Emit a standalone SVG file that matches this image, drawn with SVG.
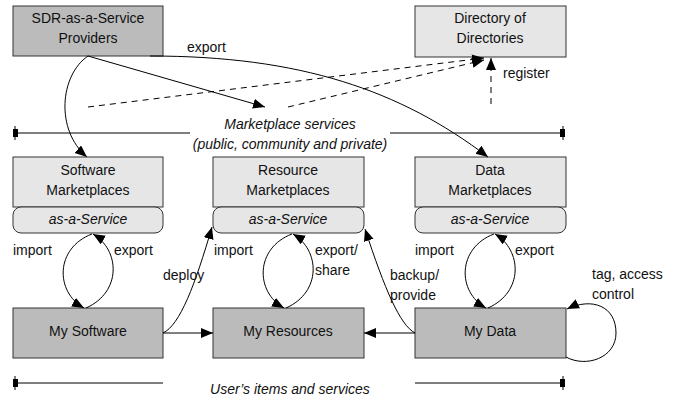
<svg xmlns="http://www.w3.org/2000/svg" width="676" height="401" viewBox="0 0 676 401">
<defs>
<marker id="arr" markerUnits="userSpaceOnUse" markerWidth="13" markerHeight="11" refX="12" refY="5" orient="auto"><path d="M0,0 L12,5 L0,10 z" fill="#000"/></marker>
<style>
text{font-family:"Liberation Sans",Arial,sans-serif;font-size:14px;fill:#111}
.c{text-anchor:middle}
.i{font-style:italic}
.dark{fill:#bbbbbb;stroke:#333;stroke-width:1}
.light{fill:#e6e6e6;stroke:#333;stroke-width:1}
.ln{fill:none;stroke:#000;stroke-width:1}
.dash{fill:none;stroke:#000;stroke-width:1;stroke-dasharray:6,5}
</style>
</defs>
<rect width="676" height="401" fill="#fff"/>

<g id="sdr"><rect class="dark" x="13" y="6" width="150" height="50"/><text class="c" x="88" y="23">SDR-as-a-Service</text><text class="c" x="88" y="43">Providers</text></g>
<g id="dir"><rect class="light" x="415" y="6" width="151" height="51"/><text class="c" x="490" y="23">Directory of</text><text class="c" x="490" y="43">Directories</text></g>

<g id="swm"><rect class="light" x="13" y="157" width="150" height="50"/><text class="c" x="88" y="175">Software</text><text class="c" x="88" y="195">Marketplaces</text><rect class="light" x="13" y="207" width="150" height="26" rx="8"/><text class="c i" x="88" y="224">as-a-Service</text></g>
<g id="rsm"><rect class="light" x="213" y="157" width="151" height="50"/><text class="c" x="288" y="175">Resource</text><text class="c" x="288" y="195">Marketplaces</text><rect class="light" x="213" y="207" width="151" height="26" rx="8"/><text class="c i" x="288" y="224">as-a-Service</text></g>
<g id="dtm"><rect class="light" x="415" y="157" width="151" height="50"/><text class="c" x="490" y="175">Data</text><text class="c" x="490" y="195">Marketplaces</text><rect class="light" x="415" y="207" width="151" height="26" rx="8"/><text class="c i" x="490" y="224">as-a-Service</text></g>

<g id="mysw"><rect class="dark" x="13" y="308" width="150" height="50"/><text class="c" x="88" y="336">My Software</text></g>
<g id="myres"><rect class="dark" x="213" y="308" width="151" height="50"/><text class="c" x="288" y="336">My Resources</text></g>
<g id="mydata"><rect class="dark" x="415" y="308" width="151" height="50"/><text class="c" x="490" y="336">My Data</text></g>

<g id="bands">
<line class="ln" x1="15" y1="133" x2="190" y2="133"/><line class="ln" x1="390" y1="133" x2="563" y2="133"/>
<rect x="13" y="129" width="5" height="8" fill="#000"/><line class="ln" x1="15" y1="126" x2="15" y2="140"/>
<rect x="560" y="129" width="5" height="8" fill="#000"/><line class="ln" x1="563" y1="126" x2="563" y2="140"/>
<text class="c i" x="290" y="129">Marketplace services</text>
<text class="c i" x="290" y="149">(public, community and private)</text>
<line class="ln" x1="15" y1="383" x2="163" y2="383"/><line class="ln" x1="415" y1="383" x2="563" y2="383"/>
<rect x="13" y="379" width="5" height="8" fill="#000"/><line class="ln" x1="15" y1="376" x2="15" y2="390"/>
<rect x="560" y="379" width="5" height="8" fill="#000"/><line class="ln" x1="563" y1="376" x2="563" y2="390"/>
<text class="c i" x="290" y="394">User’s items and services</text>
</g>

<g id="connectors">
<path class="ln" d="M88,56 C60,75 55,130 87,157" marker-end="url(#arr)"/>
<path class="ln" d="M88,56 L265,107" marker-end="url(#arr)"/>
<path class="ln" d="M150,56 C300,56 400,90 488,157" marker-end="url(#arr)"/>
<path class="dash" d="M88,107 L484,58" marker-end="url(#arr)"/>
<path class="dash" d="M288,107 L484,60" marker-end="url(#arr)"/>
<path class="dash" d="M491,104 L491,58" marker-end="url(#arr)"/>

<path class="ln" d="M92,234 C55,248 55,292 84,308" marker-end="url(#arr)"/>
<path class="ln" d="M86,308 C122,292 120,250 93,234" marker-end="url(#arr)"/>
<path class="ln" d="M292,234 C255,248 255,292 284,308" marker-end="url(#arr)"/>
<path class="ln" d="M286,308 C322,292 320,250 293,234" marker-end="url(#arr)"/>
<path class="ln" d="M494,234 C457,248 457,292 486,308" marker-end="url(#arr)"/>
<path class="ln" d="M488,308 C524,292 522,250 495,234" marker-end="url(#arr)"/>

<path class="ln" d="M163,333 C180,325 195,285 212,227" marker-end="url(#arr)"/>
<path class="ln" d="M163,333 L213,333" marker-end="url(#arr)"/>
<path class="ln" d="M415,333 C400,325 385,290 365,229" marker-end="url(#arr)"/>
<path class="ln" d="M415,333 L364,333" marker-end="url(#arr)"/>
<path class="ln" d="M566,357 C586,368 616,358 616,333 C616,306 592,297 567,309" marker-end="url(#arr)"/>

<text x="187" y="52">export</text>
<text x="503" y="78">register</text>
<text x="13" y="255">import</text>
<text x="114" y="255">export</text>
<text x="163" y="280">deploy</text>
<text x="214" y="255">import</text>
<text x="315" y="255">export/</text>
<text x="315" y="275">share</text>
<text x="390" y="280">backup/</text>
<text x="390" y="300">provide</text>
<text x="415" y="255">import</text>
<text x="515" y="255">export</text>
<text x="592" y="279">tag, access</text>
<text x="592" y="299">control</text>
</g>
</svg>
